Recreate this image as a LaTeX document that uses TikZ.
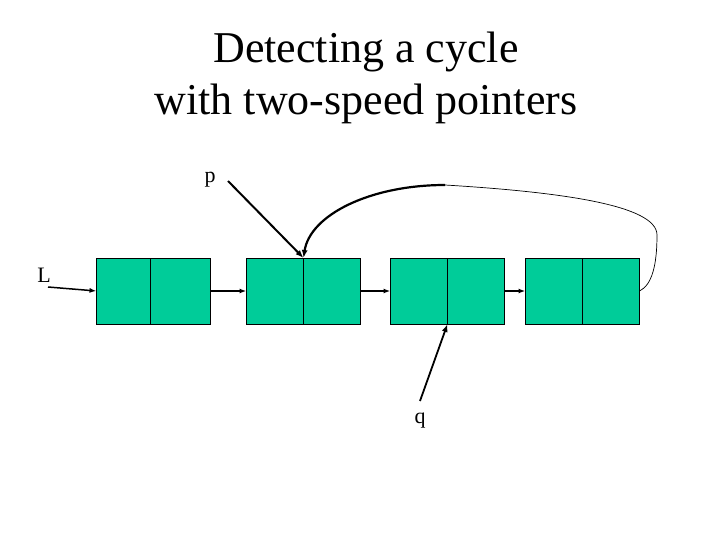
\documentclass[tikz,border=0pt]{standalone}
\usepackage{fontspec}
\setmainfont{Liberation Serif}
\usetikzlibrary{arrows.meta}
\definecolor{cellgreen}{RGB}{0,204,153}
\tikzset{
  cell/.style={rectangle,draw,line width=0.8pt,fill=cellgreen,minimum width=57pt,minimum height=66pt,inner sep=0pt,outer sep=0pt},
  link/.style={line width=1.5pt,-{Latex[length=7pt,width=5pt]}},
  lbl/.style={font=\fontsize{22}{24}\selectfont}
}
\begin{document}
\begin{tikzpicture}[x=1pt,y=-1pt]
\useasboundingbox[fill=white] (0,0) rectangle (720,540);

\node[align=center,font=\fontsize{44}{52}\selectfont] (title) at (366,78) {Detecting a cycle\\with two-speed pointers};

% the four list cells
\node[cell,minimum width=54pt] (a1) at (123.5,291) {};
\node[cell,minimum width=60pt] (a2) at (180.5,291) {};
\node[cell] (b1) at (275,291) {};
\node[cell] (b2) at (332,291) {};
\node[cell] (c1) at (419,291) {};
\node[cell] (c2) at (476,291) {};
\node[cell] (d1) at (554,291) {};
\node[cell] (d2) at (611,291) {};

\draw[link] (a2.east) -- (b1.west);
\draw[link] (b2.east) -- (c1.west);
\draw[link] (c2.east) -- (d1.west);

% pointers
\node[lbl] (L) at (44,275) {L};
\node[lbl] (p) at (210,180) {p};
\node[lbl] (q) at (420,421) {q};
\coordinate (ltail) at (48,287);
\coordinate (ptail) at (228,181);
\coordinate (qtail) at (420,401);

\draw[link] (ltail) -- (a1.west);
\draw[line width=2pt,-{Latex[length=8pt,width=6pt]}] (ptail) -- (b1.north east);
\draw[line width=1.8pt,-{Latex[length=8pt,width=6pt]}] (qtail) -- (c1.south east);

% back link from the last cell
\coordinate (top) at (445,185);
\draw[line width=0.7pt] (d2.east) .. controls (652,285) and (657,265) .. (657,235)
  .. controls (657,205) and (560,192) .. (top);
\draw[line width=2.2pt,-{Latex[length=8pt,width=6pt]}] (top) .. controls (370,185) and (310,215) .. (b1.north east);
\end{tikzpicture}
\end{document}
